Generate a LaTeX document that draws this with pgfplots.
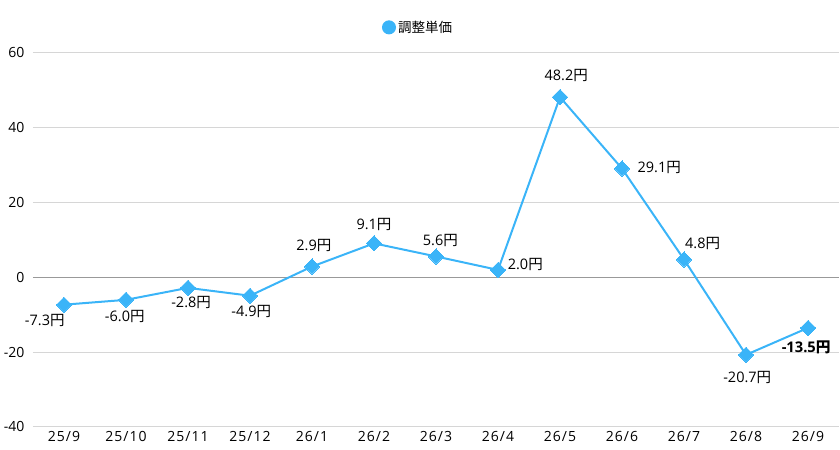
\documentclass[border=0pt]{standalone}
\usepackage{fontspec}
\setmainfont{Open Sans}
\newfontfamily\xtf{Open Sans}[LetterSpace=7]
\newfontfamily\cjk{Noto Sans CJK JP}
\newcommand{\yen}{{\cjk 円}}
\usepackage{pgfplots}
\pgfplotsset{compat=1.18}
\definecolor{ser}{HTML}{3AB4F8}
\begin{document}
\begin{tikzpicture}
\begin{axis}[name=ax,
  scale only axis, width=806pt, height=374pt,
  xmin=-0.5, xmax=12.5, ymin=-40, ymax=60,
  xtick={0,...,12},
  xticklabels={25/9,25/10,25/11,25/12,26/1,26/2,26/3,26/4,26/5,26/6,26/7,26/8,26/9},
  ytick={-40,-20,0,20,40,60},
  axis line style={draw=none},
  major tick length=0pt,
  ymajorgrids, grid style={draw=black!16, line width=1pt},
  tick label style={font=\fontsize{14}{16}\selectfont, text=black},
  /pgf/number format/assume math mode=true,
  yticklabel style={anchor=east, xshift=-5pt},
  xticklabel style={yshift=-1pt, font=\fontsize{14}{16}\selectfont\xtf},
  legend style={at={(0.5,1)}, anchor=south, yshift=15pt, xshift=-18pt, draw=none, fill=none,
    font=\fontsize{13.5}{15}\selectfont\cjk, legend cell align=left},
  legend image code/.code={\fill[ser] (0.08cm,0) circle (6pt);},
  clip=false,
]
\draw[black!40, line width=1pt] (axis cs:-0.5,0) -- (axis cs:12.5,0);
\addplot[ser, line width=2pt, mark=square*, mark size=5.4pt, mark options={fill=ser, draw=ser, line width=0pt, rotate=45}]
coordinates {(0,-7.3)(1,-6.0)(2,-2.8)(3,-4.9)(4,2.9)(5,9.1)(6,5.6)(7,2.0)(8,48.2)(9,29.1)(10,4.8)(11,-20.7)(12,-13.5)};
\addlegendentry{調整単価}
\begin{scope}[every node/.style={font=\fontsize{14.5}{16}\selectfont, inner sep=0pt, anchor=center}]
\node at (axis cs:-0.31,-11.5) {-7.3\yen};
\node at (axis cs:0.98,-10.4) {-6.0\yen};
\node at (axis cs:2.05,-6.7) {-2.8\yen};
\node at (axis cs:3.02,-9.1) {-4.9\yen};
\node at (axis cs:4.03,8.5) {2.9\yen};
\node at (axis cs:5.0,14.1) {9.1\yen};
\node at (axis cs:6.07,9.9) {5.6\yen};
\node at (axis cs:7.44,3.5) {2.0\yen};
\node at (axis cs:8.1,53.9) {48.2\yen};
\node at (axis cs:9.6,29.3) {29.1\yen};
\node at (axis cs:10.3,9.1) {4.8\yen};
\node at (axis cs:11.02,-26.7) {-20.7\yen};
\node[font=\fontsize{14.7}{16}\selectfont\bfseries] at (axis cs:11.97,-18.7) {-13.5{\cjk\bfseries 円}};
\end{scope}
\end{axis}
\pgfresetboundingbox
\path ([shift={(-33pt,-23pt)}]ax.south west) rectangle ([shift={(1pt,53pt)}]ax.north east);
\end{tikzpicture}
\end{document}
